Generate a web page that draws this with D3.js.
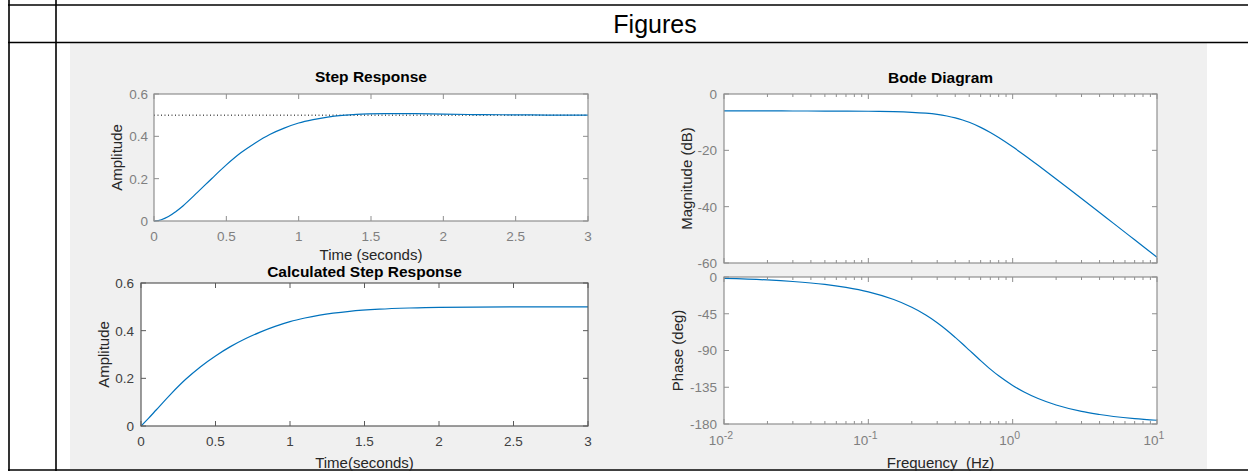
<!DOCTYPE html>
<html>
<head>
<meta charset="utf-8">
<script src="https://cdn.jsdelivr.net/npm/d3@7"></script>
<style>
  html, body { margin: 0; padding: 0; background: #ffffff; }
  svg { display: block; font-family: "Liberation Sans", Arial, Helvetica, sans-serif; }
</style>
</head>
<body>
<svg id="chart" width="1248" height="471"></svg>
<script>
// ---------- data ----------
const stepTime = [0, 0.05, 0.1, 0.15, 0.2, 0.3, 0.4, 0.5, 0.6, 0.7, 0.8, 0.9, 1.0, 1.1, 1.2, 1.3, 1.4, 1.6, 1.8, 2.0, 2.2, 2.4, 2.6, 2.8, 3.0];
const stepAmp  = [0, 0.006, 0.021, 0.044, 0.071, 0.135, 0.201, 0.265, 0.322, 0.369, 0.409, 0.439, 0.463, 0.479, 0.491, 0.499, 0.504, 0.507, 0.507, 0.505, 0.503, 0.502, 0.501, 0.500, 0.500];
const steadyState = 0.5;

const calcTime = [0, 0.05, 0.1, 0.2, 0.3, 0.4, 0.5, 0.6, 0.7, 0.8, 0.9, 1.0, 1.1, 1.2, 1.4, 1.6, 1.8, 2.0, 2.5, 3.0];
const calcAmp  = [0, 0.032, 0.066, 0.134, 0.196, 0.249, 0.294, 0.333, 0.366, 0.394, 0.418, 0.438, 0.453, 0.465, 0.481, 0.490, 0.495, 0.498, 0.500, 0.500];

const bodeFreq  = [0.01, 0.02, 0.03, 0.05, 0.07, 0.1, 0.15, 0.2, 0.25, 0.3, 0.35, 0.4, 0.45, 0.5, 0.6, 0.7, 0.8, 1, 1.2, 1.5, 2, 3, 4, 5, 7, 10];
const bodeMagDb = [-6.02, -6.02, -6.03, -6.05, -6.07, -6.12, -6.26, -6.49, -6.81, -7.24, -7.80, -8.46, -9.22, -10.05, -11.84, -13.67, -15.47, -18.76, -21.64, -25.31, -30.16, -37.10, -42.07, -45.93, -51.76, -57.95];
const bodePhase = [-1.8, -3.6, -5.5, -9.1, -12.8, -18.3, -27.6, -37.1, -46.5, -55.9, -65.1, -73.9, -82.0, -89.5, -102.4, -112.8, -121.0, -132.8, -140.8, -148.8, -156.7, -164.6, -168.4, -170.8, -173.4, -175.4];

const timeTicks  = [0, 0.5, 1, 1.5, 2, 2.5, 3];
const ampTicks   = [0, 0.2, 0.4, 0.6];
const magTicks   = [0, -20, -40, -60];
const phaseTicks = [0, -45, -90, -135, -180];
const freqTicks  = [0.01, 0.1, 1, 10];
const freqExp    = ["-2", "-1", "0", "1"];

// ---------- helpers ----------
const svg = d3.select("#chart");
const LINE = "#0072BD";
const TICKFONT = 13.5;
const TITLEFONT = 15.5;
const LABELFONT = 15;

// page / table frame
svg.append("rect").attr("x", 70).attr("y", 43).attr("width", 1137).attr("height", 426).attr("fill", "#f0f0f0");
const frame = svg.append("g").attr("stroke", "#000").attr("stroke-width", 1.6);
frame.append("line").attr("x1", 9).attr("x2", 9).attr("y1", 0).attr("y2", 471);
frame.append("line").attr("x1", 56).attr("x2", 56).attr("y1", 0).attr("y2", 471);
frame.append("line").attr("x1", 8).attr("x2", 1248).attr("y1", 5).attr("y2", 5);
frame.append("line").attr("x1", 8).attr("x2", 1248).attr("y1", 42.5).attr("y2", 42.5);
frame.append("line").attr("x1", 8).attr("x2", 1248).attr("y1", 470).attr("y2", 470);
svg.append("text").attr("x", 655).attr("y", 33).attr("text-anchor", "middle")
  .attr("font-size", 25).attr("fill", "#000").text("Figures");

let clipId = 0;
function panel(o) {
  const g = svg.append("g");
  const { x0, x1, y0, y1, xs, ys } = o;
  g.append("rect").attr("x", x0).attr("y", y0).attr("width", x1 - x0).attr("height", y1 - y0).attr("fill", "#fff");
  const cid = "clip" + (clipId++);
  g.append("clipPath").attr("id", cid).append("rect")
    .attr("x", x0).attr("y", y0 - 1).attr("width", x1 - x0).attr("height", y1 - y0 + 2);
  const plot = g.append("g").attr("clip-path", `url(#${cid})`);

  // ticks (inside, both sides)
  const tk = g.append("g").attr("stroke", o.boxColor).attr("stroke-width", 1);
  const TL = 5;
  o.xTicks.forEach(v => {
    const x = xs(v);
    tk.append("line").attr("x1", x).attr("x2", x).attr("y1", y1).attr("y2", y1 - TL);
    tk.append("line").attr("x1", x).attr("x2", x).attr("y1", y0).attr("y2", y0 + TL);
  });
  (o.xMinor || []).forEach(v => {
    const x = xs(v);
    tk.append("line").attr("x1", x).attr("x2", x).attr("y1", y1).attr("y2", y1 - 3);
    tk.append("line").attr("x1", x).attr("x2", x).attr("y1", y0).attr("y2", y0 + 3);
  });
  o.yTicks.forEach(v => {
    const y = ys(v);
    tk.append("line").attr("x1", x0).attr("x2", x0 + TL).attr("y1", y).attr("y2", y);
    tk.append("line").attr("x1", x1).attr("x2", x1 - TL).attr("y1", y).attr("y2", y);
  });

  // box
  g.append("rect").attr("x", x0).attr("y", y0).attr("width", x1 - x0).attr("height", y1 - y0)
    .attr("fill", "none").attr("stroke", o.boxColor).attr("stroke-width", 1.2);

  // y tick labels
  o.yTicks.forEach(v => {
    g.append("text").attr("x", x0 - o.yLabelGap).attr("y", ys(v)).attr("dy", "0.36em")
      .attr("text-anchor", "end").attr("font-size", TICKFONT).attr("fill", o.labelColor).text(String(v));
  });
  // x tick labels
  if (o.xLabels) {
    o.xTicks.forEach((v, i) => {
      if (o.log) {
        const t = g.append("text").attr("x", xs(v) - 3).attr("y", y1 + 21)
          .attr("text-anchor", "middle").attr("font-size", TICKFONT).attr("fill", o.labelColor);
        t.append("tspan").text("10");
        t.append("tspan").attr("dy", -6).attr("font-size", 10.5).text(o.xExp[i]);
      } else {
        g.append("text").attr("x", xs(v)).attr("y", y1 + 20)
          .attr("text-anchor", "middle").attr("font-size", TICKFONT).attr("fill", o.labelColor).text(String(v));
      }
    });
  }
  if (o.title) {
    g.append("text").attr("x", (x0 + x1) / 2).attr("y", o.titleY).attr("text-anchor", "middle")
      .attr("font-size", TITLEFONT).attr("font-weight", "bold").attr("fill", "#000").text(o.title);
  }
  if (o.xTitle) {
    g.append("text").attr("x", (x0 + x1) / 2).attr("y", o.xTitleY).attr("text-anchor", "middle")
      .attr("font-size", LABELFONT).attr("fill", "#262626").style("white-space", "pre").text(o.xTitle);
  }
  if (o.yTitle) {
    g.append("text").attr("transform", `translate(${o.yTitleX},${(y0 + y1) / 2}) rotate(-90)`)
      .attr("text-anchor", "middle").attr("font-size", LABELFONT).attr("fill", "#262626").text(o.yTitle);
  }
  return plot;
}

// ---------- Step Response ----------
{
  const xs = d3.scaleLinear().domain([0, 3]).range([154, 588]);
  const ys = d3.scaleLinear().domain([0, 0.6]).range([221, 94]);
  const plot = panel({ x0: 154, x1: 588, y0: 94, y1: 221, xs, ys, xTicks: timeTicks, yTicks: ampTicks,
    boxColor: "#8f8f8f", labelColor: "#7f7f7f", yLabelGap: 6, xLabels: true,
    title: "Step Response", titleY: 82, xTitle: "Time (seconds)", xTitleY: 259.5,
    yTitle: "Amplitude", yTitleX: 122 });
  plot.append("line").attr("x1", xs(0)).attr("x2", xs(3)).attr("y1", ys(steadyState)).attr("y2", ys(steadyState))
    .attr("stroke", "#000").attr("stroke-width", 1).attr("stroke-dasharray", "1,2.5");
  const line = d3.line().x((d, i) => xs(stepTime[i])).y(d => ys(d)).curve(d3.curveCatmullRom);
  plot.append("path").attr("d", line(stepAmp)).attr("fill", "none").attr("stroke", LINE).attr("stroke-width", 1.2);
}

// ---------- Calculated Step Response ----------
{
  const xs = d3.scaleLinear().domain([0, 3]).range([141, 588]);
  const ys = d3.scaleLinear().domain([0, 0.6]).range([426, 283]);
  const plot = panel({ x0: 141, x1: 588, y0: 283, y1: 426, xs, ys, xTicks: timeTicks, yTicks: ampTicks,
    boxColor: "#5a5a5a", labelColor: "#404040", yLabelGap: 7, xLabels: true,
    title: "Calculated Step Response", titleY: 276.5, xTitle: "Time(seconds)", xTitleY: 468,
    yTitle: "Amplitude", yTitleX: 109 });
  const line = d3.line().x((d, i) => xs(calcTime[i])).y(d => ys(d)).curve(d3.curveMonotoneX);
  plot.append("path").attr("d", line(calcAmp)).attr("fill", "none").attr("stroke", LINE).attr("stroke-width", 1.2);
}

// ---------- Bode ----------
const minorFreq = [];
for (let e = -2; e < 1; e++) for (let m = 2; m <= 9; m++) minorFreq.push(m * Math.pow(10, e));
{
  const xs = d3.scaleLog().domain([0.01, 10]).range([724, 1157]);
  const ys = d3.scaleLinear().domain([-60, 0]).range([263, 94]);
  const plot = panel({ x0: 724, x1: 1157, y0: 94, y1: 263, xs, ys, xTicks: freqTicks, xMinor: minorFreq,
    yTicks: magTicks, boxColor: "#8f8f8f", labelColor: "#7f7f7f", yLabelGap: 7, xLabels: false,
    title: "Bode Diagram", titleY: 83, yTitle: "Magnitude (dB)", yTitleX: 692 });
  const line = d3.line().x((d, i) => xs(bodeFreq[i])).y(d => ys(d)).curve(d3.curveCatmullRom);
  plot.append("path").attr("d", line(bodeMagDb)).attr("fill", "none").attr("stroke", LINE).attr("stroke-width", 1.2);
}
{
  const xs = d3.scaleLog().domain([0.01, 10]).range([724, 1157]);
  const ys = d3.scaleLinear().domain([-180, 0]).range([424, 277]);
  const plot = panel({ x0: 724, x1: 1157, y0: 277, y1: 424, xs, ys, xTicks: freqTicks, xMinor: minorFreq,
    yTicks: phaseTicks, boxColor: "#8f8f8f", labelColor: "#7f7f7f", yLabelGap: 7, xLabels: true, log: true,
    xExp: freqExp, xTitle: "Frequency\u00a0 (Hz)", xTitleY: 468, yTitle: "Phase (deg)", yTitleX: 683 });
  const line = d3.line().x((d, i) => xs(bodeFreq[i])).y(d => ys(d)).curve(d3.curveCatmullRom);
  plot.append("path").attr("d", line(bodePhase)).attr("fill", "none").attr("stroke", LINE).attr("stroke-width", 1.2);
}
</script>
</body>
</html>
